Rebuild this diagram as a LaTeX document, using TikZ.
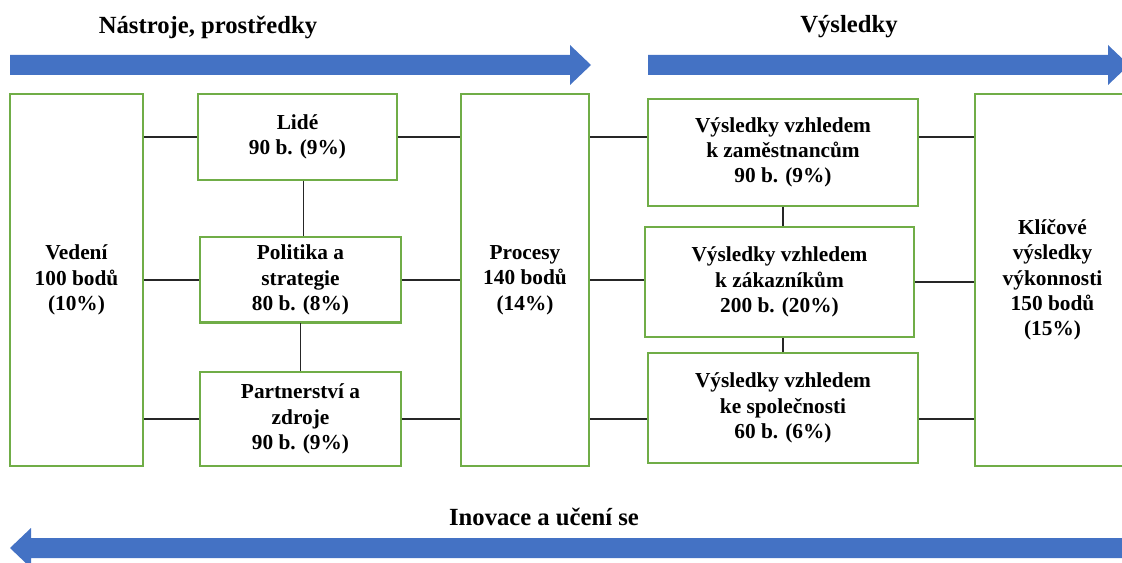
\documentclass[tikz,border=0pt]{standalone}
\usepackage{fontspec}
\setmainfont{Liberation Serif}
\definecolor{boxgreen}{RGB}{112,173,71}
\definecolor{bandblue}{RGB}{68,114,196}
\begin{document}
\begin{tikzpicture}[x=0.75pt,y=-0.75pt,
	box/.style n args={2}{draw=boxgreen,line width=1.5pt,minimum width=#1*0.75pt,minimum height=#2*0.75pt,inner sep=0pt,align=center,font=\bfseries\fontsize{16}{19}\selectfont},
	link/.style={line width=1.2pt,black!85},
	band/.style={fill=bandblue},
	heading/.style={font=\bfseries\fontsize{18.5}{21}\selectfont}]
	\useasboundingbox (0,0) rectangle (1122,563);
	% pasy se sipkami
	\fill[band] (10,55) -- (570,55) -- (570,45) -- (591,65) -- (570,85) -- (570,75) -- (10,75) -- cycle;
	\fill[band] (648,55) -- (1108,55) -- (1108,45) -- (1129,65) -- (1108,85) -- (1108,75) -- (648,75) -- cycle;
	\fill[band] (1130,538) -- (31,538) -- (31,528) -- (10,548) -- (31,568) -- (31,558) -- (1130,558) -- cycle;
	\node[heading] (tnastroje) at (208,27) {Nástroje, prostředky};
	\node[heading] (tvysledky) at (849,27) {Výsledky};
	\node[heading] (tinovace) at (544,517) {Inovace a učení se};
	% predpoklady
	\node[box={133}{372}] (ved) at (76.5,280) {Vedení\\100 bodů\\(10\%)};
	\node[box={199}{86}] (lide) at (297.5,137) {Lidé\\90 b. (9\%)};
	\node[box={201}{85}] (polit) at (300.5,280) {Politika a\\strategie\\80 b. (8\%)};
	\node[box={201}{94}] (partn) at (300.5,419) {Partnerství a\\zdroje\\90 b. (9\%)};
	\node[box={128}{372}] (proc) at (525,280) {Procesy\\140 bodů\\(14\%)};
	% vysledky
	\node[box={270}{107}] (zam) at (783,152.5) {Výsledky vzhledem\\k zaměstnancům\\90 b. (9\%)};
	\node[box={269}{110}] (zak) at (779.5,282) {Výsledky vzhledem\\k zákazníkům\\200 b. (20\%)};
	\node[box={270}{110}] (spol) at (783,408) {Výsledky vzhledem\\ke společnosti\\60 b. (6\%)};
	\node[box={155}{372}] (klic) at (1052.5,280) {Klíčové\\výsledky\\výkonnosti\\150 bodů\\(15\%)};
	% spojnice
	\draw[link] (ved.east |- lide.west) -- (lide.west);
	\draw[link] (ved.east |- polit.west) -- (polit.west);
	\draw[link] (ved.east |- partn.west) -- (partn.west);
	\draw[link] (lide.east) -- (proc.west |- lide.east);
	\draw[link] (polit.east) -- (proc.west |- polit.east);
	\draw[link] (partn.east) -- (proc.west |- partn.east);
	\draw[link] ([xshift=4.5pt]lide.south) -- ([xshift=4.5pt]lide.south |- polit.north);
	\draw[link] (polit.south) -- (partn.north);
	\draw[link] (proc.east |- lide.east) -- (zam.west |- lide.east);
	\draw[link] (proc.east) -- (zak.west |- proc.east);
	\draw[link] (proc.east |- partn.east) -- (spol.west |- partn.east);
	\draw[link] (zam.east |- lide.east) -- (klic.west |- lide.east);
	\draw[link] (zak.east) -- (klic.west |- zak.east);
	\draw[link] (spol.east |- partn.east) -- (klic.west |- partn.east);
	\draw[link] (zam.south) -- (zam.south |- zak.north);
	\draw[link] ([xshift=2.5pt]zak.south) -- ([xshift=2.5pt]zak.south |- spol.north);
\end{tikzpicture}
\end{document}
